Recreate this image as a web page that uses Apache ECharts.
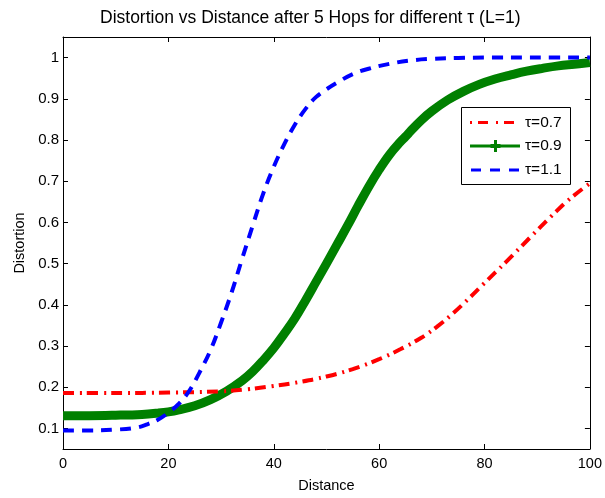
<!DOCTYPE html>
<html>
<head>
<meta charset="utf-8">
<script src="https://cdn.jsdelivr.net/npm/echarts@6/dist/echarts.min.js"></script>
<style>html,body{margin:0;padding:0;background:#fff}#c{width:605px;height:498px}</style>
</head>
<body>
<div id="c"></div>
<script>
// ---- data ----
var xTicks = [0, 20, 40, 60, 80, 100];
var yTicks = [0.1, 0.2, 0.3, 0.4, 0.5, 0.6, 0.7, 0.8, 0.9, 1];

var redLabel = 'τ=0.7';
var redX = [0,10,20,30,35,40,45,50,55,60,64,68,71,74,77,80,84,87,90,93,96,100];
var redY = [0.186,0.186,0.187,0.190,0.195,0.203,0.213,0.226,0.244,0.268,0.292,0.320,0.347,0.379,0.415,0.453,0.503,0.542,0.581,0.619,0.655,0.695];

var greenLabel = 'τ=0.9';
var greenX = [0,5,10,15,18,20,22,25,28,31,34,36,38,40,42,44,46,48,50,52,54,56,58,60,62,64,65,66,68,70,73,76,79,82,85,88,91,94,97,100];
var greenY = [0.131,0.131,0.132,0.134,0.137,0.140,0.145,0.155,0.170,0.190,0.216,0.238,0.265,0.295,0.330,0.367,0.410,0.455,0.500,0.546,0.592,0.640,0.686,0.728,0.765,0.795,0.808,0.822,0.848,0.870,0.897,0.918,0.935,0.948,0.958,0.967,0.974,0.980,0.984,0.988];

var blueLabel = 'τ=1.1';
var blueX = [0,5,10,14,16,18,20,22,24,26,28,30,32,34,36,38,40,42,44,46,48,50,52,55,58,62,66,70,75,80,90,100];
var blueY = [0.095,0.095,0.097,0.102,0.110,0.121,0.138,0.160,0.192,0.238,0.290,0.357,0.430,0.512,0.592,0.670,0.735,0.790,0.837,0.875,0.904,0.923,0.939,0.960,0.973,0.985,0.993,0.997,0.999,1.0,1.0,1.0];

function pairs(xs, ys) { return xs.map(function (x, i) { return [x, ys[i]]; }); }

var FONT = '"Liberation Sans", Arial, Helvetica, sans-serif';

var chart = echarts.init(document.getElementById('c'), null, { renderer: 'canvas' });

var axisCommon = {
  axisLine: { show: true, onZero: false, lineStyle: { color: '#000', width: 1 } },
  splitLine: { show: false }
};

var option = {
  backgroundColor: '#fff',
  animation: false,
  title: {
    text: 'Distortion vs Distance after 5 Hops for different τ (L=1)',
    left: 95,
    top: 4,
    textStyle: { fontFamily: FONT, fontSize: 17.5, fontWeight: 'normal', color: '#000' }
  },
  grid: { left: 63, right: 13, top: 37, bottom: 45 },
  xAxis: [
    Object.assign({}, axisCommon, {
      type: 'value', min: 0, max: 100, interval: 20, position: 'bottom',
      axisLabel: { color: '#000', fontFamily: FONT, fontSize: 14.5, margin: 7,
        customValues: xTicks },
      axisTick: { show: true, inside: true, length: 5, customValues: xTicks, lineStyle: { color: '#000' } },
      name: 'Distance', nameLocation: 'middle', nameGap: 29,
      nameTextStyle: { color: '#000', fontFamily: FONT, fontSize: 14.5 }
    }),
    Object.assign({}, axisCommon, {
      type: 'value', min: 0, max: 100, interval: 20, position: 'top',
      axisLabel: { show: false },
      axisTick: { show: true, inside: true, length: 5, customValues: xTicks, lineStyle: { color: '#000' } }
    })
  ],
  yAxis: [
    Object.assign({}, axisCommon, {
      type: 'value', min: 0.05, max: 1.05, position: 'left',
      axisLabel: { color: '#000', fontFamily: FONT, fontSize: 15, margin: 4,
        customValues: yTicks,
        formatter: function (v) { return String(Math.round(v * 10) / 10); } },
      axisTick: { show: true, inside: true, length: 5, customValues: yTicks, lineStyle: { color: '#000' } },
      name: 'Distortion', nameLocation: 'middle', nameGap: 35, nameRotate: 90,
      nameTextStyle: { color: '#000', fontFamily: FONT, fontSize: 14.5 }
    }),
    Object.assign({}, axisCommon, {
      type: 'value', min: 0.05, max: 1.05, position: 'right',
      axisLabel: { show: false },
      axisTick: { show: true, inside: true, length: 5, customValues: yTicks, lineStyle: { color: '#000' } }
    })
  ],
  series: [
    {
      name: redLabel, type: 'line', xAxisIndex: 0, yAxisIndex: 0,
      data: pairs(redX, redY), showSymbol: false, symbol: 'none',
      smooth: 0.4, clip: false,
      lineStyle: { color: '#ff0000', width: 4, type: [11, 6, 2, 5], cap: 'butt' },
      z: 3
    },
    {
      name: greenLabel, type: 'line', xAxisIndex: 0, yAxisIndex: 0,
      data: pairs(greenX, greenY), showSymbol: false, symbol: 'none',
      smooth: 0.4, clip: false,
      lineStyle: { color: '#008000', width: 9, cap: 'butt', join: 'round' },
      z: 2
    },
    {
      name: blueLabel, type: 'line', xAxisIndex: 0, yAxisIndex: 0,
      data: pairs(blueX, blueY), showSymbol: false, symbol: 'none',
      smooth: 0.4, clip: false,
      lineStyle: { color: '#0000ff', width: 4, type: [11, 8], cap: 'butt' },
      z: 4
    }
  ],
  graphic: [
    {
      type: 'group', left: 461, top: 107, z: 100,
      children: [
        { type: 'rect', shape: { x: 0.5, y: 0.5, width: 109, height: 77 },
          style: { fill: '#fff', stroke: '#000', lineWidth: 1 } },
        { type: 'line', shape: { x1: 9, y1: 15.5, x2: 59, y2: 15.5 },
          style: { stroke: '#ff0000', lineWidth: 3, lineDash: [2, 6, 10, 8] } },
        { type: 'text', x: 64, y: 15.5,
          style: { text: redLabel, fill: '#000', font: '15.5px ' + FONT, textVerticalAlign: 'middle', verticalAlign: 'middle' } },
        { type: 'line', shape: { x1: 9, y1: 39, x2: 59, y2: 39 },
          style: { stroke: '#008000', lineWidth: 3 } },
        { type: 'line', shape: { x1: 29.5, y1: 39, x2: 39.5, y2: 39 },
          style: { stroke: '#008000', lineWidth: 4 } },
        { type: 'line', shape: { x1: 34.5, y1: 33, x2: 34.5, y2: 45 },
          style: { stroke: '#008000', lineWidth: 3 } },
        { type: 'text', x: 64, y: 39,
          style: { text: greenLabel, fill: '#000', font: '15.5px ' + FONT, textVerticalAlign: 'middle', verticalAlign: 'middle' } },
        { type: 'line', shape: { x1: 10, y1: 63, x2: 59, y2: 63 },
          style: { stroke: '#0000ff', lineWidth: 3, lineDash: [10, 9] } },
        { type: 'text', x: 64, y: 63,
          style: { text: blueLabel, fill: '#000', font: '15.5px ' + FONT, textVerticalAlign: 'middle', verticalAlign: 'middle' } }
      ]
    }
  ]
};

chart.setOption(option);
</script>
</body>
</html>
